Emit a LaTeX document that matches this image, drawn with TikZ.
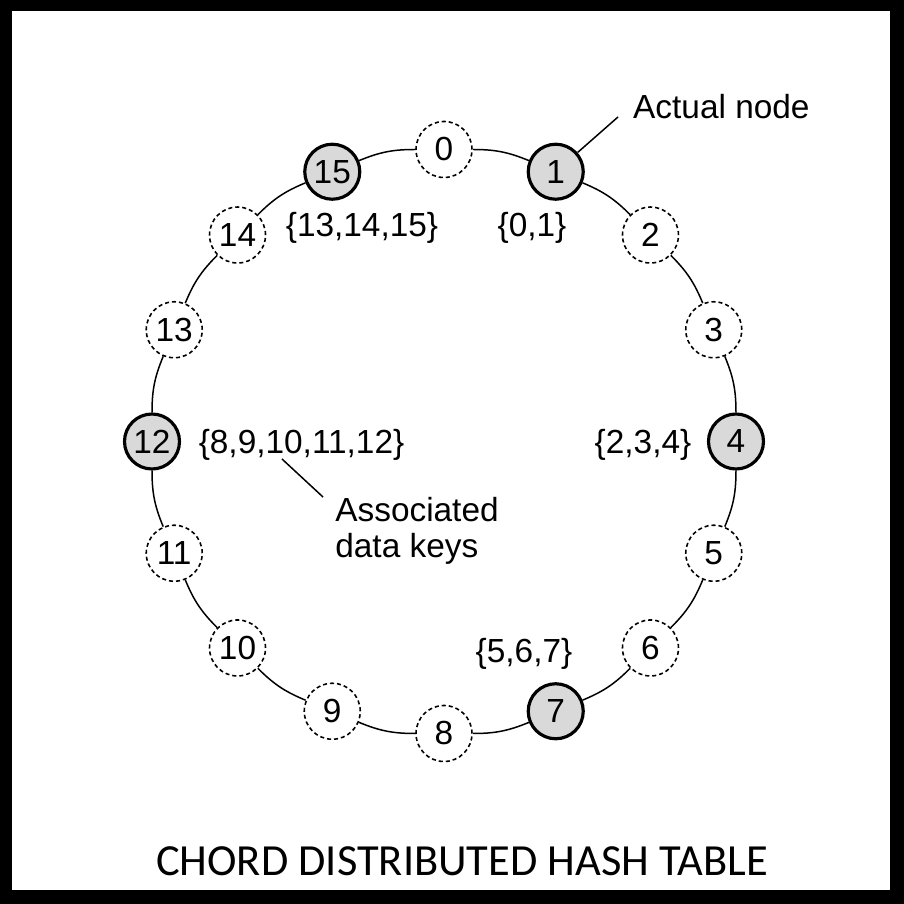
\documentclass[tikz,border=0pt]{standalone}
\usepackage{fontspec}
\setmainfont{Liberation Sans}
\newfontfamily\titlefont{Carlito}

\begin{document}
\begin{tikzpicture}[every node/.style={font=\fontsize{19}{21}\selectfont},
    slot/.style={circle, draw, line width=0.9pt, dash pattern=on 2.3pt off 1.7pt, fill=white, minimum size=1.12cm, inner sep=0pt},
    peer/.style={circle, draw, line width=1.8pt, fill=black!15, minimum size=1.1cm, inner sep=0pt},
    ring/.style={line width=0.85pt},
    leader/.style={line width=0.85pt}]
  \useasboundingbox (-8.88,-9.25) rectangle (9.20,8.83);
  \fill[black,even odd rule] (-8.88,-9.25) rectangle (9.20,8.83) (-8.64,-8.97) rectangle (8.92,8.61);
  % identifier ring
  \foreach \i in {0,2,3,5,6,8,9,10,11,13,14} \node[slot] (n\i) at ({90-22.5*\i}:5.84) {\i};
  \foreach \i in {1,4,7,12,15} \node[peer] (n\i) at ({90-22.5*\i}:5.84) {\i};
  \foreach \i [evaluate=\i as \j using {int(mod(\i+1,16))}] in {0,...,15}
    \draw[ring] (n\i) to[bend left=11.25] (n\j);
  % keys held by each peer
  \node[anchor=base] (k15) at (-1.64,4.09) {\{13,14,15\}};
  \node[anchor=base] (k1) at (1.76,4.09) {\{0,1\}};
  \node[anchor=base] (k4) at (3.98,-0.25) {\{2,3,4\}};
  \node[anchor=base] (k12) at (-2.85,-0.25) {\{8,9,10,11,12\}};
  \node[anchor=base] (k7) at (1.60,-4.43) {\{5,6,7\}};
  % callouts
  \node[anchor=base west] (actual) at (3.66,6.45) {Actual node};
  \coordinate (actualtip) at (3.48,6.49);
  \draw[leader] (n1) -- (actualtip);
  \node[anchor=north west, align=left, inner sep=0pt] (assoc) at (-2.18,-1.10) {Associated\\data keys};
  \coordinate (keystop) at (-3.24,-0.35);
  \coordinate (keysbot) at (-2.42,-1.11);
  \draw[leader] (keystop) -- (keysbot);
  \node[font=\titlefont\fontsize{25.3}{30}\selectfont, anchor=base] (title) at (0.36,-8.67) {CHORD DISTRIBUTED HASH TABLE};
\end{tikzpicture}
\end{document}
